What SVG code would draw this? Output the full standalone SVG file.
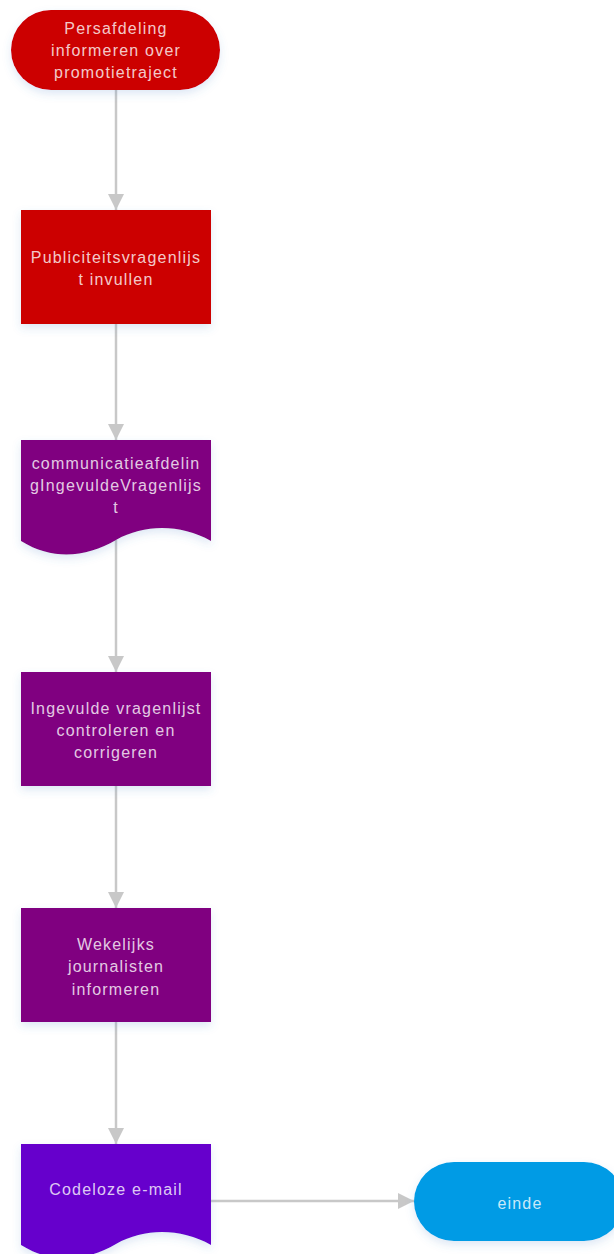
<svg xmlns="http://www.w3.org/2000/svg" width="614" height="1254" viewBox="0 0 614 1254">
<style>
.t{font-family:"Liberation Sans",Arial,sans-serif;font-size:16px;letter-spacing:1.2px;fill:#ffffff;fill-opacity:0.8;text-anchor:middle;dominant-baseline:central}
.c{stroke:#c8c8c8;stroke-width:2.5;fill:none;marker-end:url(#ah)}
.red{fill:#cc0000}
.pur{fill:#800080}
</style>
<defs>
<marker id="ah" markerWidth="18" markerHeight="18" refX="16" refY="8" orient="auto" markerUnits="userSpaceOnUse">
<path d="M0,0 L16,8 L0,16 Z" fill="#c8c8c8"/>
</marker>
<filter id="sh" x="-20%" y="-20%" width="140%" height="150%">
<feDropShadow dx="0" dy="4" stdDeviation="4" flood-color="#4a7fc8" flood-opacity="0.18"/>
</filter>
</defs>
<g id="connectors">
<path class="c" d="M116,90 V210"/>
<path class="c" d="M116,324 V440"/>
<path class="c" d="M116,540 V672"/>
<path class="c" d="M116,786 V908"/>
<path class="c" d="M116,1022 V1144"/>
<path class="c" d="M211,1201 H414"/>
</g>
<g id="n1">
<rect class="red" x="11" y="10" width="209" height="80" rx="40" filter="url(#sh)"/>
<text class="t" x="116" y="28">Persafdeling</text>
<text class="t" x="116" y="50">informeren over</text>
<text class="t" x="116" y="72">promotietraject</text>
</g>
<g id="n2">
<rect class="red" x="21" y="210" width="190" height="114" filter="url(#sh)"/>
<text class="t" x="116" y="257">Publiciteitsvragenlijs</text>
<text class="t" x="116" y="279">t invullen</text>
</g>
<g id="n3">
<path class="pur" d="M21,440 H211 V541 C180,524 145,524 116,540 C88,556 55,562 21,541 Z" filter="url(#sh)"/>
<text class="t" x="116" y="463">communicatieafdelin</text>
<text class="t" x="116" y="485">gIngevuldeVragenlijs</text>
<text class="t" x="116" y="507">t</text>
</g>
<g id="n4">
<rect class="pur" x="21" y="672" width="190" height="114" filter="url(#sh)"/>
<text class="t" x="116" y="708">Ingevulde vragenlijst</text>
<text class="t" x="116" y="730">controleren en</text>
<text class="t" x="116" y="752">corrigeren</text>
</g>
<g id="n5">
<rect class="pur" x="21" y="908" width="190" height="114" filter="url(#sh)"/>
<text class="t" x="116" y="944">Wekelijks</text>
<text class="t" x="116" y="966">journalisten</text>
<text class="t" x="116" y="989">informeren</text>
</g>
<g id="n6">
<path d="M21,1144 H211 V1245 C180,1228 145,1228 116,1244 C88,1260 55,1266 21,1245 Z" fill="#6600cc" filter="url(#sh)"/>
<text class="t" x="116" y="1189">Codeloze e-mail</text>
</g>
<g id="n7">
<rect x="414" y="1162" width="210" height="79" rx="40" fill="#039be5" filter="url(#sh)"/>
<text class="t" x="520" y="1203">einde</text>
</g>
</svg>
